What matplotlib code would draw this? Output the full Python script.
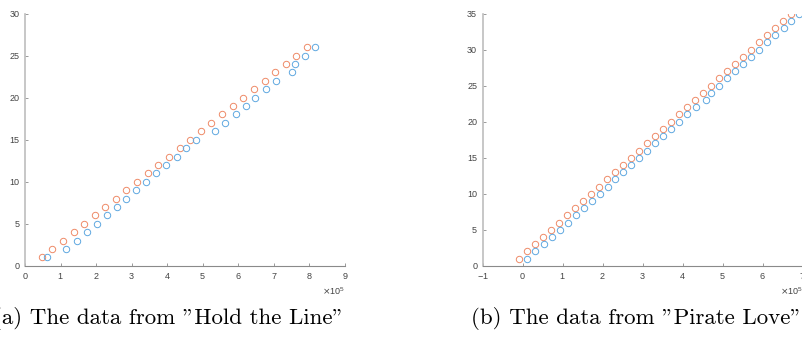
import matplotlib
matplotlib.use("Agg")
import matplotlib.pyplot as plt
import numpy as np

# x values, in units of 1e5
hold_y = list(range(1, 27))
hold_orange_x = [0.47, 0.77, 1.07, 1.37, 1.67, 1.96, 2.26, 2.56, 2.85, 3.15,
                 3.45, 3.75, 4.05, 4.35, 4.65, 4.94, 5.24, 5.54, 5.84, 6.14,
                 6.44, 6.74, 7.04, 7.33, 7.63, 7.93]
hold_blue_x = [0.61, 1.15, 1.45, 1.74, 2.02, 2.32, 2.59, 2.84, 3.12, 3.41,
               3.69, 3.97, 4.27, 4.53, 4.80, 5.34, 5.63, 5.93, 6.21, 6.48,
               6.77, 7.05, 7.52, 7.59, 7.87, 8.15]

pirate_y = list(range(1, 36))
pirate_orange_x = [-0.08, 0.12, 0.32, 0.52, 0.72, 0.92, 1.12, 1.32, 1.52, 1.72,
                   1.92, 2.12, 2.32, 2.52, 2.72, 2.92, 3.12, 3.32, 3.52, 3.72,
                   3.92, 4.12, 4.32, 4.52, 4.72, 4.92, 5.12, 5.32, 5.52, 5.72,
                   5.92, 6.12, 6.32, 6.52, 6.72]
pirate_blue_x = [0.10, 0.31, 0.53, 0.73, 0.93, 1.13, 1.34, 1.53, 1.73, 1.93,
                 2.13, 2.31, 2.50, 2.70, 2.92, 3.12, 3.32, 3.51, 3.72, 3.92,
                 4.12, 4.33, 4.58, 4.72, 4.92, 5.12, 5.32, 5.51, 5.72, 5.92,
                 6.12, 6.32, 6.53, 6.72, 6.92]

captions = ['(a) The data from "Hold the Line"', '(b) The data from "Pirate Love"']

ORANGE = "#ee8a68"
BLUE = "#5fa8e0"
W, H = 803, 341

fig = plt.figure(figsize=(W / 100, H / 100), dpi=100)


def panel(rect, xo, xb, y, xlim, ylim, yticks):
    ax = fig.add_axes(rect)
    ax.plot(np.array(xo) * 1e5, y, "o", mfc="none", mec=ORANGE, ms=4.6, mew=0.7)
    ax.plot(np.array(xb) * 1e5, y, "o", mfc="none", mec=BLUE, ms=4.6, mew=0.7)
    ax.set_xlim(xlim[0] * 1e5, xlim[1] * 1e5)
    ax.set_ylim(*ylim)
    ax.set_xticks(np.arange(xlim[0], xlim[1] + 1) * 1e5)
    ax.set_yticks(yticks)
    ax.ticklabel_format(axis="x", style="sci", scilimits=(0, 0), useMathText=True)
    for s in ("top", "right"):
        ax.spines[s].set_visible(False)
    ax.spines["left"].set_color("#bdbdbd")
    ax.spines["left"].set_linewidth(1.2)
    ax.spines["bottom"].set_color("#8a8a8a")
    ax.spines["bottom"].set_linewidth(0.8)
    ax.tick_params(direction="in", length=2.5, width=0.6, color="#8a8a8a",
                   labelsize=6.5, labelcolor="#444444", pad=4)
    for lab in ax.get_xticklabels() + ax.get_yticklabels():
        lab.set_family("Liberation Sans")
    off = ax.xaxis.get_offset_text()
    off.set_fontsize(6.5)
    off.set_color("#444444")
    off.set_family("Liberation Sans")
    return ax


bottom = (H - 265.7) / H
height = 252 / H
width = 320 / W
panel([25 / W, bottom, width, height], hold_orange_x, hold_blue_x, hold_y,
      (0, 9), (0, 30), range(0, 31, 5))
panel([482.7 / W, bottom, width, height], pirate_orange_x, pirate_blue_x, pirate_y,
      (-1, 7), (0, 35), range(0, 36, 5))

fig.text(-7 / W, (H - 318) / H, captions[0], family=["cmr10", "DejaVu Serif"],
         fontsize=16.5, ha="left", va="center")
fig.text(471 / W, (H - 318) / H, captions[1], family=["cmr10", "DejaVu Serif"],
         fontsize=16.5, ha="left", va="center")

fig.savefig("out.png", dpi=100)
